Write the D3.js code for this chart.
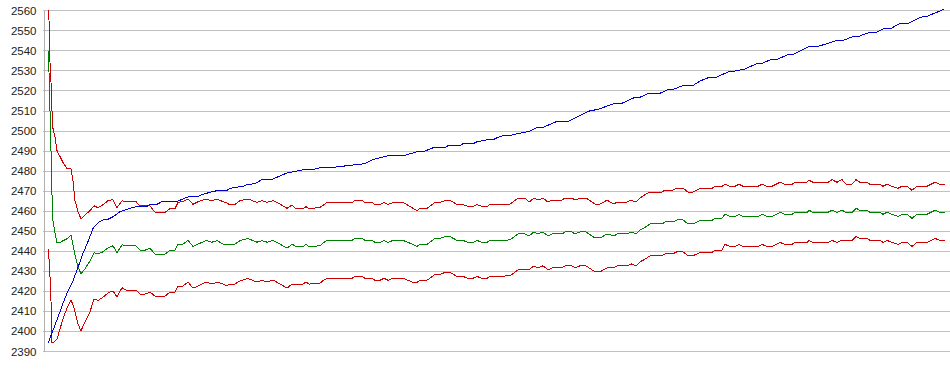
<!DOCTYPE html>
<html>
<head>
<meta charset="utf-8">
<script src="https://cdn.jsdelivr.net/npm/d3@7"></script>
<style>
  body { margin: 0; background: #fff; }
  #chart text { font-family: "Liberation Sans", Arial, sans-serif; font-size: 11.5px; fill: #222; }
</style>
</head>
<body>
<div id="chart"></div>
<script>
// y ticks (every 10)
const yTicks = d3.range(2390, 2561, 10);

// shared sample positions of the three band series (red / green / red)
const bandX = [0, 1, 2, 3, 4, 5, 7, 9, 12, 15, 19, 23, 25, 27, 30, 33, 37, 42, 46, 50, 55, 60, 65, 69, 74, 78, 88,
    92, 97, 102, 107, 117, 122, 127, 130, 135, 140, 145, 150, 158, 164, 169, 175, 179, 181, 187, 192, 200, 209, 214, 219, 225, 232, 239, 244, 248, 255, 258, 261,
    272, 275, 279, 304, 307, 314, 317, 324, 327, 332, 336, 340, 345, 355, 360, 365, 369, 372, 379, 387, 392, 397, 402, 409, 415, 420, 425, 429, 434, 439, 442,
    462, 470, 477, 481, 486, 490, 495, 500, 504, 514, 517, 524, 527, 532, 538, 544, 547, 552, 559, 566, 569, 579, 583, 588, 592, 597, 602, 614, 617, 625, 629, 635, 640, 645,
    652, 664, 667, 674, 677, 682, 687, 691, 695, 710, 714, 719, 724, 732, 737, 744, 747, 759, 761, 765, 780, 784, 789, 794, 798, 804, 808, 812, 819, 822, 832, 835, 839, 844, 850, 854, 859, 864, 869, 879, 887, 892, 897];

const upperValues = [2560, 2555, 2534, 2524, 2510, 2501, 2497, 2490, 2487, 2484, 2481, 2481, 2475, 2465, 2459.5, 2456, 2458, 2460, 2462.5, 2461.5, 2463, 2465, 2465.5, 2461.5, 2465, 2464.5, 2464.5,
    2462.5, 2462.5, 2462.5, 2459.2, 2459.2, 2461, 2461, 2464.2, 2464.5, 2465.8, 2463.2, 2464.5, 2465.8, 2465, 2465.8, 2464.5, 2463.8, 2463.2, 2463.2, 2465, 2465.8, 2464.2, 2465, 2464.2, 2465, 2463.3, 2461.2, 2462.9, 2461, 2461, 2462, 2461,
    2461.6, 2462.7, 2464.1, 2464.1, 2465.1, 2465.1, 2464.1, 2464.1, 2463.1, 2463.1, 2464.1, 2463.1, 2464.1, 2464.1, 2462.7, 2461.2, 2460.1, 2461.1, 2461.1, 2464.1, 2464.1, 2465.1, 2465.1, 2463.1, 2463.1, 2462.1, 2462.1, 2463.1, 2462.1, 2462.1, 2463.1,
    2463.3, 2466.3, 2466.3, 2464.3, 2466.3, 2465.3, 2466.3, 2464.3, 2465.3, 2465.3, 2466.3, 2466.3, 2465.3, 2466.3, 2466.3, 2464.3, 2463.3, 2463.3, 2465.3, 2463.3, 2464.3, 2464.3, 2465.3, 2464.3, 2466.3, 2468, 2469.3, 2469.3, 2470.3, 2470.3, 2471.3, 2471.3, 2469.3, 2469.3,
    2471.2, 2471.2, 2472.2, 2472.2, 2473.2, 2472.2, 2472.2, 2473.2, 2472.2, 2472.2, 2473.2, 2472.2, 2472.2, 2474.2, 2473.2, 2473.2, 2474.2, 2474.2, 2475.2, 2474.2, 2474.2, 2475.5, 2474.2, 2475.5, 2473.2, 2473.2, 2475.5, 2474.2, 2474.2, 2473.2, 2473.2, 2472.2, 2473.2, 2472.2, 2471.2, 2472.2, 2472.2, 2470.2, 2472.2, 2472.2, 2474.2, 2473.2, 2473.2];

const middleValues = [2540, 2529, 2510, 2490, 2468, 2455, 2449, 2444, 2444, 2445, 2446, 2448, 2443, 2438, 2432, 2428.5, 2431, 2435, 2439, 2438.5, 2439.5, 2441.5, 2442.5, 2439, 2443, 2442.5, 2442.5,
    2440.3, 2440.3, 2441.3, 2438.3, 2438.3, 2440.3, 2440.3, 2443.3, 2443.3, 2445.3, 2442.1, 2443.3, 2445.1, 2444.3, 2445.1, 2443.3, 2443.3, 2443.3, 2443.3, 2445.1, 2446.1, 2444.3, 2445.1, 2444.3, 2445.1, 2443.3, 2441.3, 2443.3, 2442.1, 2442.1, 2443.3, 2442.1,
    2442.5, 2443.8, 2445.2, 2445.2, 2446.2, 2446.2, 2445.2, 2445.2, 2444.2, 2444.2, 2445.2, 2444.2, 2445.2, 2445.2, 2444.2, 2443.2, 2442.2, 2443.2, 2443.2, 2446.2, 2446.2, 2447.1, 2447.1, 2445.2, 2445.2, 2444.2, 2444.2, 2445.2, 2444.2, 2444.2, 2445.2,
    2445.4, 2448.4, 2448.4, 2447.4, 2449.4, 2448.4, 2449.4, 2447.4, 2448.4, 2448.4, 2449.4, 2449.4, 2448.4, 2449.4, 2449.4, 2447.4, 2446.4, 2446.4, 2448.4, 2447.4, 2448.4, 2448.4, 2449.4, 2448.4, 2450.4, 2451.7, 2453.4, 2453.4, 2454.4, 2454.4, 2455.4, 2455.4, 2453.4, 2453.4,
    2455.2, 2455.2, 2456.2, 2456.2, 2458.2, 2457.2, 2457.2, 2458.2, 2457.2, 2457.2, 2458.2, 2457.2, 2457.2, 2459.2, 2458.2, 2458.2, 2459.2, 2459.2, 2460.2, 2459.2, 2459.2, 2460.2, 2459.2, 2460.2, 2459.2, 2459.2, 2461.2, 2460.2, 2460.2, 2459.2, 2459.2, 2458.2, 2459.2, 2458.2, 2457.2, 2458.2, 2458.2, 2456.2, 2458.2, 2458.2, 2460.2, 2459.2, 2459.2];

const lowerValues = [2441, 2436, 2427, 2415, 2394, 2394, 2395, 2396, 2401, 2406, 2411.5, 2415.5, 2413, 2409.6, 2403.5, 2400, 2404.6, 2409.6, 2416, 2415.2, 2416.8, 2419, 2420, 2417, 2421.6, 2420.4, 2420.4,
    2418.4, 2418.4, 2419.4, 2417.4, 2417.4, 2419.4, 2419.4, 2422.4, 2422.4, 2424.4, 2421.4, 2422.4, 2424.4, 2423.4, 2424.4, 2423.4, 2422.4, 2423.4, 2423.4, 2425, 2426.2, 2424.4, 2425.4, 2424.4, 2425.4, 2423.4, 2421.4, 2423.4, 2423.4, 2423.4, 2424.4, 2423.4,
    2423.8, 2425.1, 2426.3, 2426.3, 2427.2, 2427.2, 2426.3, 2426.3, 2425.3, 2425.3, 2426.3, 2425.3, 2426.3, 2426.3, 2425.3, 2424.3, 2424.3, 2425.3, 2425.3, 2428.2, 2428.2, 2429.2, 2429.2, 2427.2, 2427.2, 2426.3, 2426.3, 2427.2, 2426.3, 2426.3, 2427.2,
    2427.5, 2430.5, 2430.5, 2430.5, 2432.5, 2431.5, 2432.5, 2430.5, 2431.5, 2431.5, 2432.5, 2432.5, 2431.5, 2432.5, 2432.5, 2430.5, 2429.5, 2429.5, 2431.5, 2431.5, 2432.5, 2432.5, 2433.5, 2432.5, 2434.5, 2435.8, 2437.5, 2437.5, 2438.5, 2438.5, 2439.5, 2439.5, 2437.5, 2437.5,
    2439.2, 2439.2, 2440.2, 2440.2, 2443.2, 2442.2, 2442.2, 2443.2, 2442.2, 2442.2, 2443.2, 2442.2, 2442.2, 2444.2, 2443.2, 2443.2, 2444.2, 2444.2, 2445.2, 2444.2, 2444.2, 2445.2, 2444.2, 2445.2, 2445.2, 2445.2, 2447.2, 2446.2, 2446.2, 2445.2, 2445.2, 2444.2, 2445.2, 2444.2, 2443.2, 2444.2, 2444.2, 2442.2, 2444.2, 2444.2, 2446.2, 2445.2, 2445.2];

// blue series has its own sample positions
const blueX = [0, 4, 7, 12, 15, 19, 24, 29, 35, 40, 45, 50, 55, 60, 65, 72, 79, 85,
    92, 99, 102, 109, 115, 130, 139, 150, 155, 162, 169, 179, 182, 189, 195, 199, 207, 214, 225, 232, 239, 245, 255, 267,
    272, 282, 300, 317, 325, 340, 355, 369, 375, 385, 397, 400, 412, 415, 425, 429, 439, 445, 449, 455,
    462, 472, 482, 489, 495, 509, 520, 532, 540, 550, 567, 574, 587, 592, 601, 612, 620, 625, 635, 645,
    652, 662, 669, 682, 687, 697, 710, 715, 724, 730, 739, 744, 760, 767, 777, 787, 794, 804, 809, 820, 827, 835, 842, 852, 860, 872, 879, 896];
const blueValues = [2393.8, 2399, 2403, 2409.6, 2413.8, 2418.8, 2423.8, 2430.4, 2438.7, 2444.6, 2451.2, 2454, 2455.4, 2455.7, 2457, 2459.5, 2460.7, 2461.7,
    2462.2, 2462.2, 2463.2, 2463.2, 2464.8, 2464.8, 2466.8, 2467.2, 2468.2, 2469.2, 2470, 2470.2, 2471.1, 2471.8, 2472.1, 2473.1, 2473.5, 2475.5, 2475.8, 2477.4, 2478.8, 2479.4, 2480.4, 2480.8,
    2481.5, 2481.5, 2482.5, 2483.5, 2485.5, 2487.4, 2487.4, 2489.4, 2489.4, 2491.4, 2491.4, 2492.4, 2492.4, 2493.4, 2493.4, 2494.4, 2495.4, 2495.4, 2496.4, 2497.4,
    2497.5, 2498.7, 2499.7, 2501.6, 2501.6, 2504.6, 2504.6, 2507.5, 2509.6, 2510.6, 2513.6, 2513.6, 2516.6, 2516.6, 2518.6, 2518.6, 2520.5, 2520.5, 2522.5, 2522.5,
    2524.7, 2526.7, 2526.7, 2529.7, 2529.7, 2530.7, 2533.7, 2533.7, 2535.7, 2535.7, 2537.7, 2537.7, 2541.7, 2541.7, 2543, 2544.7, 2544.7, 2546.7, 2546.7, 2548.7, 2548.7, 2550.7, 2550.7, 2553.5, 2553.5, 2556.5, 2557, 2560.5];

const width = 950, height = 375;

const svg = d3.select('#chart')
    .append('svg')
    .attr('width', width)
    .attr('height', height);

const x = d3.scaleLinear().domain([0, 896]).range([48, 944]);
const y = d3.scaleLinear().domain([2390, 2560]).range([351, 10.3]);

// horizontal grid lines
svg.append('g')
    .selectAll('line')
    .data(yTicks)
    .enter()
    .append('line')
    .attr('x1', 43)
    .attr('x2', width)
    .attr('y1', d => Math.round(y(d)) + 0.5)
    .attr('y2', d => Math.round(y(d)) + 0.5)
    .attr('stroke', '#c0c0c0')
    .attr('shape-rendering', 'crispEdges');

// y axis (labels + vertical line)
const axis = svg.append('g')
    .attr('transform', 'translate(43.5,0)')
    .call(d3.axisLeft(y).tickValues(yTicks).tickSize(0).tickPadding(7).tickFormat(d3.format('d')));
axis.select('.domain')
    .attr('stroke', '#b0b0b0')
    .attr('shape-rendering', 'crispEdges');
axis.selectAll('.tick text').attr('dy', '0.35em');

const line = d3.line()
    .x(d => x(d[0]))
    .y(d => y(d[1]));

const series = [
    { xs: bandX, ys: lowerValues, color: '#cc0000' },
    { xs: bandX, ys: middleValues, color: '#008000' },
    { xs: bandX, ys: upperValues, color: '#cc0000' },
    { xs: blueX, ys: blueValues, color: '#0000cc' }
];

// aliased 1px lines like the original
series.forEach(s => {
    svg.append('path')
        .datum(s.xs.map((v, i) => [v, s.ys[i]]))
        .attr('fill', 'none')
        .attr('stroke', s.color)
        .attr('stroke-width', 1)
        .attr('shape-rendering', 'crispEdges')
        .attr('d', line);
});
</script>
</body>
</html>
